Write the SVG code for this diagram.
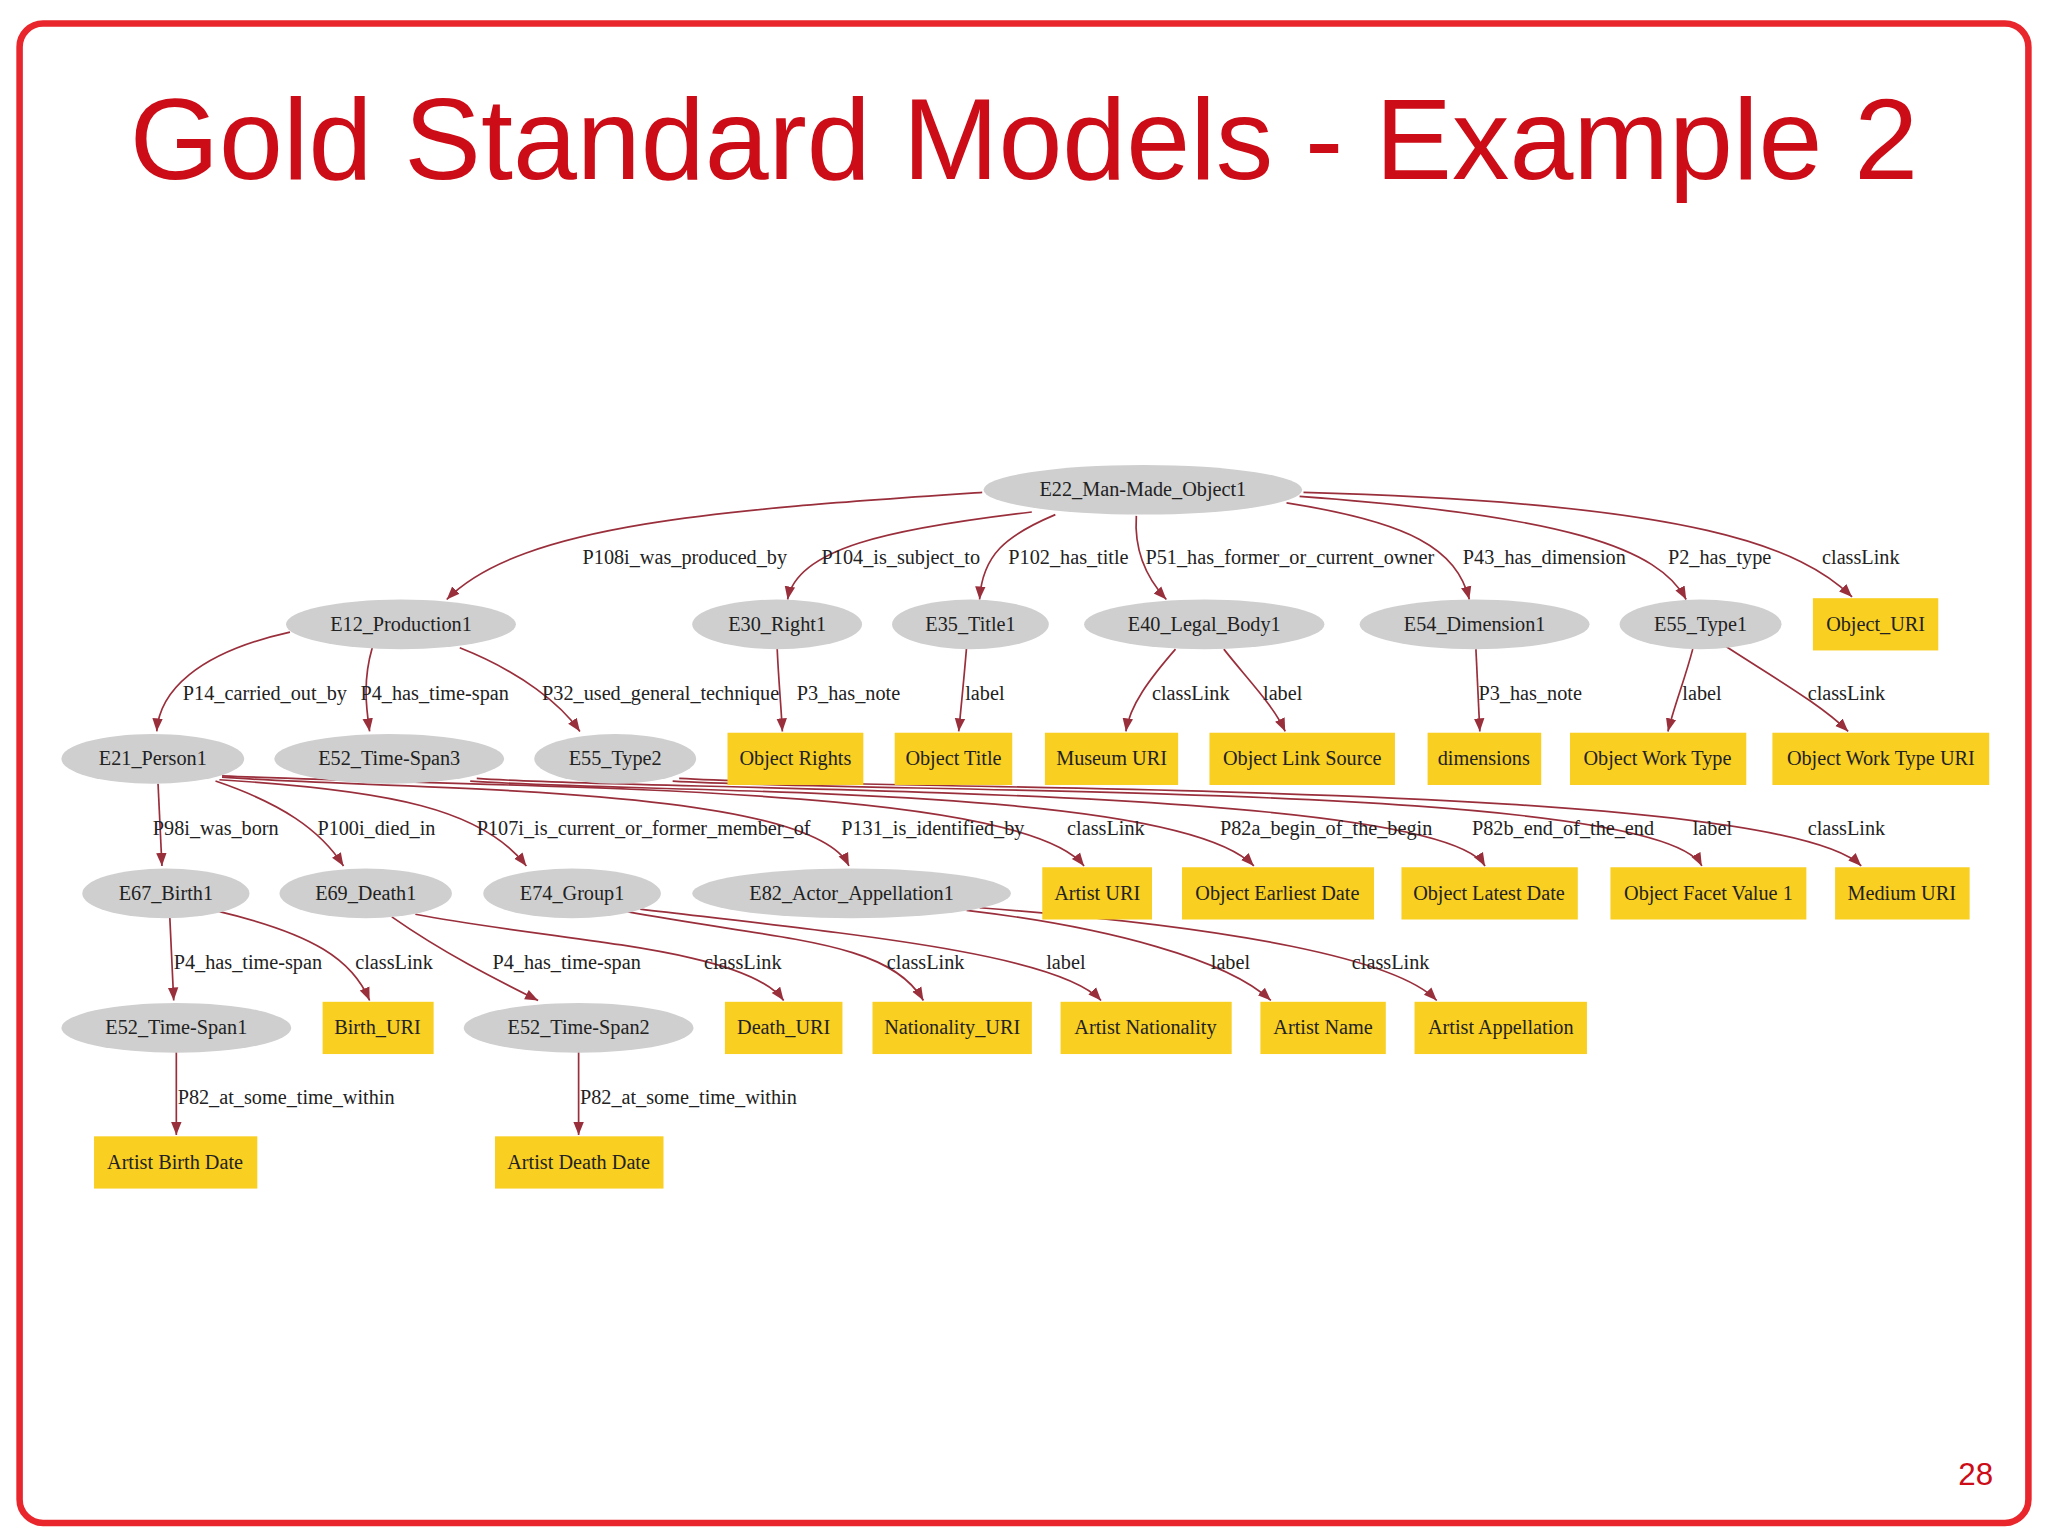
<svg xmlns="http://www.w3.org/2000/svg" width="2048" height="1536" viewBox="0 0 2048 1536">
<style>
.bg{fill:#fff}
.frame{fill:#fff;stroke:#e8262b;stroke-width:5}
.title{font-family:"Liberation Sans",Arial,sans-serif;font-size:88px;fill:#cc0c16}
.pg{font-family:"Liberation Sans",Arial,sans-serif;font-size:24px;fill:#cc0c16}
.e ellipse{fill:#cfcfcf}
.r rect{fill:#f9cf22}
.n text{font-family:"Liberation Serif","Times New Roman",serif;font-size:15.5px;fill:#222;text-anchor:middle}
.lbl{font-family:"Liberation Serif","Times New Roman",serif;font-size:15.5px;fill:#222}
#edges path{fill:none;stroke:#9a2f3c;stroke-width:1.3;marker-end:url(#ah)}
</style>
<defs>
<marker id="ah" markerWidth="10" markerHeight="12" refX="10" refY="4" orient="auto" markerUnits="userSpaceOnUse" viewBox="0 0 10 8"><path d="M0,0 L10,4 L0,8 z" fill="#9a2f3c"/></marker>
</defs>
<rect class="bg" width="2048" height="1536"/>
<g transform="scale(1.30612)">
<rect class="frame" x="15" y="18" width="1538" height="1148" rx="18"/>
<text class="title" x="784" y="137" text-anchor="middle">Gold Standard Models - Example 2</text>
<text class="pg" x="1526" y="1137" text-anchor="end">28</text>

<g id="edges">
<path d="M752 377 C560 390 400 400 342 459"/>
<path d="M790 392 C680 405 610 420 603 459"/>
<path d="M808 394 C770 410 752 425 750 459"/>
<path d="M870 395 C868 425 880 445 893 459"/>
<path d="M985 385 C1080 400 1115 420 1125 459"/>
<path d="M995 380 C1200 395 1270 420 1291 459"/>
<path d="M998 377 C1300 385 1380 420 1418 457"/>
<path d="M222 484 C150 500 122 530 120 560"/>
<path d="M285 496 C278 520 280 540 283 560"/>
<path d="M352 496 C400 515 430 540 444 560"/>
<path d="M595 496 C596 520 598 540 599 560"/>
<path d="M740 496 C738 520 736 540 734 560"/>
<path d="M900 497 C880 520 865 540 862 560"/>
<path d="M937 497 C955 520 975 540 984 560"/>
<path d="M1130 497 C1131 520 1132 540 1133 560"/>
<path d="M1296 497 C1290 520 1282 540 1277 560"/>
<path d="M1320 494 C1360 520 1395 540 1415 560"/>
<path d="M121 600 C122 620 123 640 124 663"/>
<path d="M165 598 C215 615 245 635 263 663"/>
<path d="M168 597 C300 605 370 620 403 663"/>
<path d="M170 595 C300 605 620 600 650 663"/>
<path d="M170 594 C400 604 780 600 830 663"/>
<path d="M360 598 C500 608 900 600 960 663"/>
<path d="M365 596 C500 606 1100 600 1137 663"/>
<path d="M515 598 C700 608 1270 600 1303 663"/>
<path d="M520 596 C700 606 1360 598 1425 663"/>
<path d="M130 702 C131 725 132 745 133 766"/>
<path d="M168 698 C240 715 270 735 283 766"/>
<path d="M300 702 C340 730 380 750 412 766"/>
<path d="M318 700 C420 720 570 725 600 766"/>
<path d="M480 698 C600 720 680 720 707 766"/>
<path d="M490 696 C650 715 810 730 843 766"/>
<path d="M740 697 C850 710 940 735 973 766"/>
<path d="M750 695 C950 710 1070 735 1100 766"/>
<path d="M135 805 L135 869"/>
<path d="M443 805 L443 869"/>
</g>

<g id="edge-labels">
<text class="lbl" x="446" y="432">P108i_was_produced_by</text>
<text class="lbl" x="629" y="432">P104_is_subject_to</text>
<text class="lbl" x="772" y="432">P102_has_title</text>
<text class="lbl" x="877" y="432">P51_has_former_or_current_owner</text>
<text class="lbl" x="1120" y="432">P43_has_dimension</text>
<text class="lbl" x="1277" y="432">P2_has_type</text>
<text class="lbl" x="1395" y="432">classLink</text>
<text class="lbl" x="140" y="536">P14_carried_out_by</text>
<text class="lbl" x="276" y="536">P4_has_time-span</text>
<text class="lbl" x="415" y="536">P32_used_general_technique</text>
<text class="lbl" x="610" y="536">P3_has_note</text>
<text class="lbl" x="739" y="536">label</text>
<text class="lbl" x="882" y="536">classLink</text>
<text class="lbl" x="967" y="536">label</text>
<text class="lbl" x="1132" y="536">P3_has_note</text>
<text class="lbl" x="1288" y="536">label</text>
<text class="lbl" x="1384" y="536">classLink</text>
<text class="lbl" x="117" y="639">P98i_was_born</text>
<text class="lbl" x="243" y="639">P100i_died_in</text>
<text class="lbl" x="365" y="639">P107i_is_current_or_former_member_of</text>
<text class="lbl" x="644" y="639">P131_is_identified_by</text>
<text class="lbl" x="817" y="639">classLink</text>
<text class="lbl" x="934" y="639">P82a_begin_of_the_begin</text>
<text class="lbl" x="1127" y="639">P82b_end_of_the_end</text>
<text class="lbl" x="1296" y="639">label</text>
<text class="lbl" x="1384" y="639">classLink</text>
<text class="lbl" x="133" y="742">P4_has_time-span</text>
<text class="lbl" x="272" y="742">classLink</text>
<text class="lbl" x="377" y="742">P4_has_time-span</text>
<text class="lbl" x="539" y="742">classLink</text>
<text class="lbl" x="679" y="742">classLink</text>
<text class="lbl" x="801" y="742">label</text>
<text class="lbl" x="927" y="742">label</text>
<text class="lbl" x="1035" y="742">classLink</text>
<text class="lbl" x="136" y="845">P82_at_some_time_within</text>
<text class="lbl" x="444" y="845">P82_at_some_time_within</text>
</g>

<g id="E22" class="n e"><ellipse cx="875" cy="375" rx="122" ry="19"/><text x="875" y="380">E22_Man-Made_Object1</text></g>
<g id="E12" class="n e"><ellipse cx="307" cy="478" rx="88" ry="19"/><text x="307" y="483">E12_Production1</text></g>
<g id="E30" class="n e"><ellipse cx="595" cy="478" rx="65" ry="19"/><text x="595" y="483">E30_Right1</text></g>
<g id="E35" class="n e"><ellipse cx="743" cy="478" rx="60" ry="19"/><text x="743" y="483">E35_Title1</text></g>
<g id="E40" class="n e"><ellipse cx="922" cy="478" rx="92" ry="19"/><text x="922" y="483">E40_Legal_Body1</text></g>
<g id="E54" class="n e"><ellipse cx="1129" cy="478" rx="88" ry="19"/><text x="1129" y="483">E54_Dimension1</text></g>
<g id="E55_1" class="n e"><ellipse cx="1302" cy="478" rx="62" ry="19"/><text x="1302" y="483">E55_Type1</text></g>
<g id="ObjectURI" class="n r"><rect x="1388" y="458" width="96" height="40"/><text x="1436" y="483">Object_URI</text></g>

<g id="E21" class="n e"><ellipse cx="117" cy="581" rx="70" ry="19"/><text x="117" y="586">E21_Person1</text></g>
<g id="E52_3" class="n e"><ellipse cx="298" cy="581" rx="88" ry="19"/><text x="298" y="586">E52_Time-Span3</text></g>
<g id="E55_2" class="n e"><ellipse cx="471" cy="581" rx="62" ry="19"/><text x="471" y="586">E55_Type2</text></g>
<g id="ObjRights" class="n r"><rect x="557" y="561" width="104" height="40"/><text x="609" y="586">Object Rights</text></g>
<g id="ObjTitle" class="n r"><rect x="685" y="561" width="90" height="40"/><text x="730" y="586">Object Title</text></g>
<g id="MuseumURI" class="n r"><rect x="800" y="561" width="102" height="40"/><text x="851" y="586">Museum URI</text></g>
<g id="ObjLinkSrc" class="n r"><rect x="926" y="561" width="142" height="40"/><text x="997" y="586">Object Link Source</text></g>
<g id="dimensions" class="n r"><rect x="1093" y="561" width="87" height="40"/><text x="1136" y="586">dimensions</text></g>
<g id="ObjWorkType" class="n r"><rect x="1202" y="561" width="135" height="40"/><text x="1269" y="586">Object Work Type</text></g>
<g id="ObjWorkTypeURI" class="n r"><rect x="1357" y="561" width="166" height="40"/><text x="1440" y="586">Object Work Type URI</text></g>

<g id="E67" class="n e"><ellipse cx="127" cy="684" rx="64" ry="19"/><text x="127" y="689">E67_Birth1</text></g>
<g id="E69" class="n e"><ellipse cx="280" cy="684" rx="66" ry="19"/><text x="280" y="689">E69_Death1</text></g>
<g id="E74" class="n e"><ellipse cx="438" cy="684" rx="68" ry="19"/><text x="438" y="689">E74_Group1</text></g>
<g id="E82" class="n e"><ellipse cx="652" cy="684" rx="122" ry="19"/><text x="652" y="689">E82_Actor_Appellation1</text></g>
<g id="ArtistURI" class="n r"><rect x="798" y="664" width="84" height="40"/><text x="840" y="689">Artist URI</text></g>
<g id="ObjEarliest" class="n r"><rect x="905" y="664" width="147" height="40"/><text x="978" y="689">Object Earliest Date</text></g>
<g id="ObjLatest" class="n r"><rect x="1073" y="664" width="135" height="40"/><text x="1140" y="689">Object Latest Date</text></g>
<g id="ObjFacet" class="n r"><rect x="1233" y="664" width="150" height="40"/><text x="1308" y="689">Object Facet Value 1</text></g>
<g id="MediumURI" class="n r"><rect x="1405" y="664" width="103" height="40"/><text x="1456" y="689">Medium URI</text></g>

<g id="E52_1" class="n e"><ellipse cx="135" cy="787" rx="88" ry="19"/><text x="135" y="792">E52_Time-Span1</text></g>
<g id="BirthURI" class="n r"><rect x="247" y="767" width="85" height="40"/><text x="289" y="792">Birth_URI</text></g>
<g id="E52_2" class="n e"><ellipse cx="443" cy="787" rx="88" ry="19"/><text x="443" y="792">E52_Time-Span2</text></g>
<g id="DeathURI" class="n r"><rect x="555" y="767" width="90" height="40"/><text x="600" y="792">Death_URI</text></g>
<g id="NationalityURI" class="n r"><rect x="668" y="767" width="122" height="40"/><text x="729" y="792">Nationality_URI</text></g>
<g id="ArtistNationality" class="n r"><rect x="812" y="767" width="131" height="40"/><text x="877" y="792">Artist Nationality</text></g>
<g id="ArtistName" class="n r"><rect x="965" y="767" width="96" height="40"/><text x="1013" y="792">Artist Name</text></g>
<g id="ArtistAppellation" class="n r"><rect x="1083" y="767" width="132" height="40"/><text x="1149" y="792">Artist Appellation</text></g>

<g id="ArtistBirthDate" class="n r"><rect x="72" y="870" width="125" height="40"/><text x="134" y="895">Artist Birth Date</text></g>
<g id="ArtistDeathDate" class="n r"><rect x="379" y="870" width="129" height="40"/><text x="443" y="895">Artist Death Date</text></g>
</g>
</svg>
